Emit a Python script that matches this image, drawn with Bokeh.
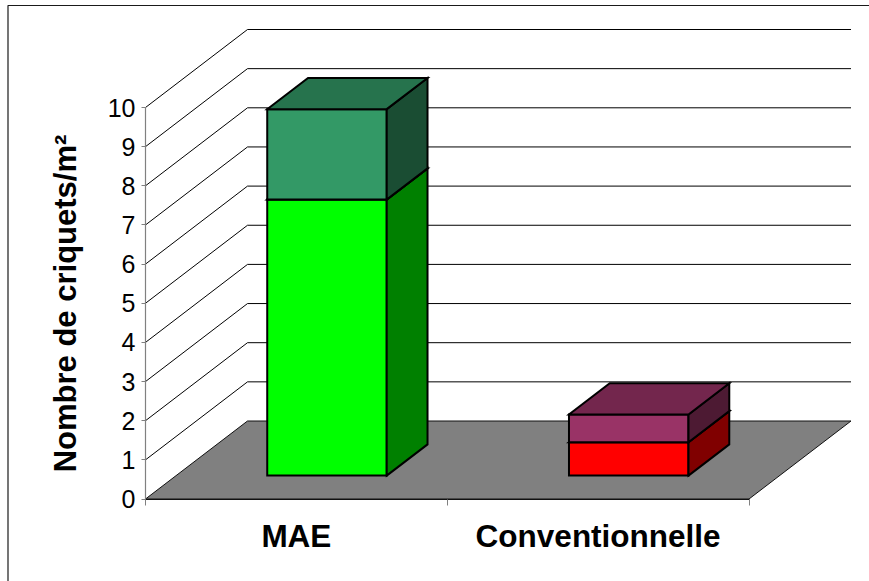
from bokeh.embed import file_html
from bokeh.models import FixedTicker, LinearAxis, Range1d
from bokeh.plotting import figure
from bokeh.resources import INLINE

# Stacked counts per farming system
categories = ["MAE", "Conventionnelle"]
lower_values = [7.05, 0.85]
upper_values = [2.31, 0.71]
y_ticks = list(range(0, 11))
y_title = "Nombre de criquets/m²"

# Face colours per stack: front, top, side
lower_colors = [("#00FF00", "#00BF00", "#008000"), ("#FF0000", "#BF0000", "#800000")]
upper_colors = [("#339966", "#26734D", "#1A4D33"), ("#993366", "#73264D", "#4D1A33")]

FONT = "Liberation Sans"
WIDTH, HEIGHT = 869, 581

# Pixel layout of the oblique box
AXIS_X, AXIS_Y = 145.0, 498.5
PX_PER_CAT, PX_PER_VAL = 301.75, 39.15
DEPTH_X, DEPTH_Y = 102.0, 78.0
BAR_WIDTH = 0.396
DEPTH_FRONT, DEPTH_BACK = 0.30, 0.70


def project(cat, val, depth):
    """Oblique projection of (category, value, depth) onto the plot's data plane."""
    return (cat + depth * DEPTH_X / PX_PER_CAT, val + depth * DEPTH_Y / PX_PER_VAL)


def polygon(points):
    xy = [project(*pt) for pt in points]
    return [a for a, _ in xy], [b for _, b in xy]


p = figure(
    width=WIDTH, height=HEIGHT, output_backend="svg", toolbar_location=None,
    x_axis_type=None, y_axis_type=None, min_border=0,
    x_range=Range1d(-AXIS_X / PX_PER_CAT, (WIDTH - AXIS_X) / PX_PER_CAT),
    y_range=Range1d((AXIS_Y - HEIGHT) / PX_PER_VAL, AXIS_Y / PX_PER_VAL),
    background_fill_color="white", border_fill_color="white",
)
p.grid.visible = False
p.outline_line_color = None

# Chart-area frame, running off the right and bottom of the page
frame_x = [(px - AXIS_X) / PX_PER_CAT for px in (7.5, 7.5, WIDTH + 20)]
frame_y = [(AXIS_Y - py) / PX_PER_VAL for py in (HEIGHT + 20, 5.0, 5.0)]
p.line(frame_x, frame_y, line_color="#1a1a1a", line_width=1.2)

n_cat = len(categories)

# Floor
fx, fy = polygon([(0, 0, 0), (n_cat, 0, 0), (n_cat, 0, 1), (0, 0, 1)])
p.patch(fx, fy, fill_color="#808080", line_color="#101010", line_width=1)

# Gridlines on the side wall and the back wall
for v in y_ticks[1:]:
    gx, gy = polygon([(0, v, 0), (0, v, 1), (n_cat, v, 1)])
    p.line(gx, gy, line_color="black", line_width=1)

# Stacked bars, drawn face by face
for i in range(n_cat):
    left = i + (1 - BAR_WIDTH) / 2
    right = left + BAR_WIDTH
    base = 0.0
    for val, (front, top, side) in ((lower_values[i], lower_colors[i]), (upper_values[i], upper_colors[i])):
        upper = base + val
        faces = [
            ([(left, base, DEPTH_FRONT), (right, base, DEPTH_FRONT), (right, upper, DEPTH_FRONT), (left, upper, DEPTH_FRONT)], front),
            ([(right, base, DEPTH_FRONT), (right, base, DEPTH_BACK), (right, upper, DEPTH_BACK), (right, upper, DEPTH_FRONT)], side),
            ([(left, upper, DEPTH_FRONT), (right, upper, DEPTH_FRONT), (right, upper, DEPTH_BACK), (left, upper, DEPTH_BACK)], top),
        ]
        for pts, color in faces:
            bx, by = polygon(pts)
            p.patch(bx, by, fill_color=color, line_color="black", line_width=2, line_join="miter")
        base = upper

# Value axis on the front corner of the box
y_axis = LinearAxis(
    fixed_location=0, bounds=(0, 10), ticker=FixedTicker(ticks=y_ticks),
    axis_line_color="#808080", axis_line_width=1.2,
    major_tick_line_color="#808080", major_tick_out=4, major_tick_in=0, minor_tick_line_color=None,
    major_label_text_font=FONT, major_label_text_font_size="25px", major_label_text_color="black",
    major_label_standoff=6,
    axis_label=y_title, axis_label_text_font=FONT, axis_label_text_font_style="bold",
    axis_label_text_font_size="31px", axis_label_text_color="black", axis_label_standoff=22,
)
p.add_layout(y_axis, "left")

# Category axis: boundary ticks as minor ticks, labels at the centres
centers = [i + 0.5 for i in range(n_cat)]
x_axis = LinearAxis(
    fixed_location=0, bounds=(0, n_cat),
    ticker=FixedTicker(ticks=centers, minor_ticks=list(range(n_cat + 1))),
    major_label_overrides={c: name for c, name in zip(centers, categories)},
    axis_line_color="#101010", axis_line_width=1,
    major_tick_line_color=None, major_tick_out=0, major_tick_in=0,
    minor_tick_line_color="#808080", minor_tick_out=6, minor_tick_in=0,
    major_label_text_font=FONT, major_label_text_font_style="bold",
    major_label_text_font_size="31.5px", major_label_text_color="black",
    major_label_standoff=13,
)
p.add_layout(x_axis, "below")

open("out.html", "w").write(file_html(p, INLINE))
